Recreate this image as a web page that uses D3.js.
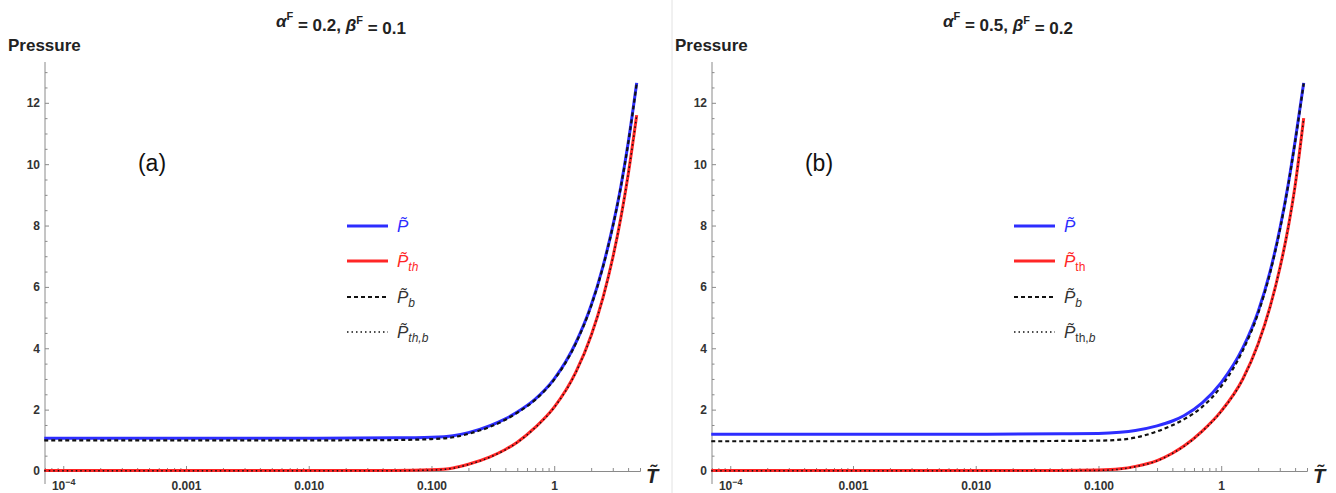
<!DOCTYPE html>
<html>
<head>
<meta charset="utf-8">
<script src="https://cdn.jsdelivr.net/npm/d3@7"></script>
<style>
  body { margin: 0; background: #fff; }
  svg { display: block; }
  text { font-family: "Liberation Sans", Arial, sans-serif; }
</style>
</head>
<body>
<svg id="chart" width="1336" height="493"></svg>
<script>
// ---- data ----
const temps = [0.00007, 0.0001, 0.001, 0.01, 0.05, 0.1, 0.15, 0.2, 0.3, 0.4, 0.5, 0.7, 1.0, 1.5, 2.0, 2.5, 3.0, 3.5, 4.0, 4.7];

const leftP    = [1.07, 1.07, 1.07, 1.07, 1.08, 1.10, 1.15, 1.25, 1.48, 1.70, 1.92, 2.34, 3.00, 4.18, 5.40, 6.68, 7.98, 9.30, 10.68, 12.65];
const leftPth  = [0.02, 0.02, 0.02, 0.02, 0.02, 0.04, 0.10, 0.22, 0.46, 0.70, 0.94, 1.42, 2.08, 3.22, 4.42, 5.66, 6.95, 8.28, 9.65, 11.60];
const leftPb   = [1.00, 1.00, 1.00, 1.00, 1.01, 1.04, 1.10, 1.21, 1.44, 1.67, 1.90, 2.32, 2.98, 4.16, 5.38, 6.66, 7.96, 9.28, 10.66, 12.63];
const leftPthb = [0.01, 0.01, 0.01, 0.01, 0.01, 0.03, 0.09, 0.21, 0.45, 0.69, 0.93, 1.41, 2.07, 3.21, 4.41, 5.65, 6.94, 8.27, 9.64, 11.59];

const rightP    = [1.20, 1.20, 1.20, 1.20, 1.21, 1.22, 1.26, 1.32, 1.47, 1.63, 1.81, 2.22, 2.88, 4.01, 5.20, 6.50, 7.88, 9.30, 10.75, 12.65];
const rightPth  = [0.02, 0.02, 0.02, 0.02, 0.02, 0.03, 0.07, 0.15, 0.34, 0.58, 0.82, 1.30, 1.95, 3.00, 4.15, 5.35, 6.60, 7.90, 9.30, 11.50];
const rightPb   = [0.97, 0.97, 0.97, 0.97, 0.98, 0.99, 1.02, 1.09, 1.29, 1.49, 1.69, 2.09, 2.76, 3.93, 5.14, 6.45, 7.84, 9.27, 10.72, 12.63];
const rightPthb = [0.01, 0.01, 0.01, 0.01, 0.01, 0.02, 0.06, 0.14, 0.33, 0.57, 0.81, 1.29, 1.94, 2.99, 4.14, 5.34, 6.59, 7.89, 9.29, 11.49];

const xTickValues = [1e-4, 1e-3, 1e-2, 0.1, 1];
const xTickLabels = ["10", "0.001", "0.010", "0.100", "1"];
const yTickValues = [0, 2, 4, 6, 8, 10, 12];
const panelTitles = [["0.2", "0.1"], ["0.5", "0.2"]];
const panelTags = ["(a)", "(b)"];

// ---- drawing ----
const svg = d3.select("#chart");
const BLUE = "#2d2dff", RED = "#ff2626";

// separator between panels
svg.append("line").attr("x1", 672).attr("x2", 672).attr("y1", 0).attr("y2", 493)
  .attr("stroke", "#e2e2e2").attr("stroke-width", 1);

function drawPanel(ox, P, Pth, Pb, Pthb, titleVals, tag, romanTh) {
  const g = svg.append("g").attr("transform", `translate(${ox},0)`);
  const x = d3.scaleLog().domain([0.000071, 5]).range([45, 640]);
  const y = d3.scaleLinear().domain([0, 13.33]).range([471, 62]);

  // minor x ticks
  const minor = [];
  for (let e = -5; e <= 0; e++) for (let k = 2; k <= 9; k++) {
    const v = k * Math.pow(10, e);
    if (v >= 0.000071 && v <= 5) minor.push(v);
  }
  const axisColor = "#8a8a8a";
  const xMinor = g.append("g").attr("transform", `translate(0,${y(0)})`)
    .call(d3.axisBottom(x).tickValues(minor).tickSize(-3).tickFormat(""));
  const xMajor = g.append("g").attr("transform", `translate(0,${y(0)})`)
    .call(d3.axisBottom(x).tickValues(xTickValues).tickSize(-5).tickFormat((d, i) => xTickLabels[i]));
  [xMinor, xMajor].forEach(a => {
    a.select(".domain").attr("stroke", axisColor).attr("stroke-width", 1);
    a.selectAll(".tick line").attr("stroke", axisColor);
  });
  xMajor.selectAll(".tick text")
    .attr("y", 10).attr("dy", "0.71em")
    .attr("fill", "#333").attr("font-size", 12).attr("font-weight", "bold")
    .attr("font-family", "Liberation Sans, Arial, sans-serif");
  xMajor.selectAll(".tick text").filter((d) => d === 1e-4)
    .each(function () {
      const t = d3.select(this);
      t.text("10").attr("text-anchor", "middle");
      t.append("tspan").attr("dy", "-0.45em").attr("font-size", 9).text("−4");
    });
  xMajor.select(".domain").remove();

  // y axis
  const yMinorVals = d3.range(0, 13.01, 0.5).filter(v => v % 2 !== 0);
  const yMinor = g.append("g").attr("transform", `translate(45,0)`)
    .call(d3.axisLeft(y).tickValues(yMinorVals).tickSize(-2.5).tickFormat(""));
  const yMajor = g.append("g").attr("transform", `translate(45,0)`)
    .call(d3.axisLeft(y).tickValues(yTickValues).tickSize(-4).tickFormat(d3.format("d")));
  yMinor.select(".domain").remove();
  yMajor.select(".domain").remove();
  g.append("line").attr("x1", 45).attr("x2", 45).attr("y1", 62).attr("y2", 484)
    .attr("stroke", axisColor).attr("stroke-width", 1);
  [yMinor, yMajor].forEach(a => a.selectAll(".tick line").attr("stroke", axisColor));
  yMajor.selectAll(".tick text").attr("x", -5)
    .attr("fill", "#333").attr("font-size", 12).attr("font-weight", "bold")
    .attr("font-family", "Liberation Sans, Arial, sans-serif");

  // curves
  const line = d3.line().x((d, i) => x(temps[i])).y(d => y(d)).curve(d3.curveMonotoneX);
  g.append("path").datum(P).attr("d", line).attr("fill", "none").attr("stroke", BLUE).attr("stroke-width", 3);
  g.append("path").datum(Pth).attr("d", line).attr("fill", "none").attr("stroke", RED).attr("stroke-width", 3);
  g.append("path").datum(Pb).attr("d", line).attr("fill", "none").attr("stroke", "#111")
    .attr("stroke-width", 2.2).attr("stroke-dasharray", "4,3");
  g.append("path").datum(Pthb).attr("d", line).attr("fill", "none").attr("stroke", "#111")
    .attr("stroke-width", 1.5).attr("stroke-dasharray", "1.5,3");

  // titles
  g.append("text").attr("x", 8).attr("y", 51).attr("font-size", 17).attr("font-weight", "bold")
    .attr("fill", "#222").text("Pressure");
  const t = g.append("text").attr("x", 341).attr("y", 27).attr("text-anchor", "middle")
    .attr("font-size", 17).attr("font-weight", "bold").attr("fill", "#222");
  t.append("tspan").attr("font-style", "italic").text("α");
  t.append("tspan").attr("font-size", 11).attr("dy", "-0.6em").text("F");
  t.append("tspan").attr("dy", "0.6em").text(` = ${titleVals[0]}, `);
  t.append("tspan").attr("font-style", "italic").text("β");
  t.append("tspan").attr("font-size", 11).attr("dy", "-0.6em").text("F");
  t.append("tspan").attr("dy", "0.6em").text(` = ${titleVals[1]}`);

  // x label
  g.append("text").attr("x", 652).attr("y", 483).attr("text-anchor", "middle")
    .attr("font-size", 20).attr("font-weight", "bold").attr("font-style", "italic")
    .attr("fill", "#222").text("T\u0303");

  // panel tag
  g.append("text").attr("x", 152).attr("y", 171).attr("text-anchor", "middle")
    .attr("font-family", "Liberation Serif, Times New Roman, serif").attr("font-size", 23)
    .attr("fill", "#111").text(tag);

  // legend
  const lx = 347, ly = [226, 261, 297, 332];
  const items = [
    { c: BLUE, w: 3, dash: null, tc: BLUE, sub: null },
    { c: RED, w: 3, dash: null, tc: RED, sub: "th" },
    { c: "#111", w: 2.2, dash: "4,3", tc: "#333", sub: "b" },
    { c: "#111", w: 1.3, dash: "1.5,3", tc: "#333", sub: "th,b" }
  ];
  items.forEach((it, i) => {
    const ln = g.append("line").attr("x1", lx).attr("x2", lx + 41).attr("y1", ly[i]).attr("y2", ly[i])
      .attr("stroke", it.c).attr("stroke-width", it.w);
    if (it.dash) ln.attr("stroke-dasharray", it.dash);
    const tx = g.append("text").attr("x", lx + 50).attr("y", ly[i] + 6)
      .attr("font-size", 17).attr("fill", it.tc);
    tx.append("tspan").attr("font-style", "italic").text("P\u0303");
    if (it.sub) {
      if (romanTh && it.sub !== "b") {
        const parts = it.sub.split(",");
        tx.append("tspan").attr("font-size", 12).attr("dy", "0.3em").text(parts[0]);
        if (parts[1]) {
          tx.append("tspan").attr("font-size", 12).text(",");
          tx.append("tspan").attr("font-size", 12).attr("font-style", "italic").text(parts[1]);
        }
      } else {
        tx.append("tspan").attr("font-size", 12).attr("dy", "0.3em").attr("font-style", "italic").text(it.sub);
      }
    }
  });
}

drawPanel(0, leftP, leftPth, leftPb, leftPthb, panelTitles[0], panelTags[0], false);
drawPanel(667, rightP, rightPth, rightPb, rightPthb, panelTitles[1], panelTags[1], true);
</script>
</body>
</html>
